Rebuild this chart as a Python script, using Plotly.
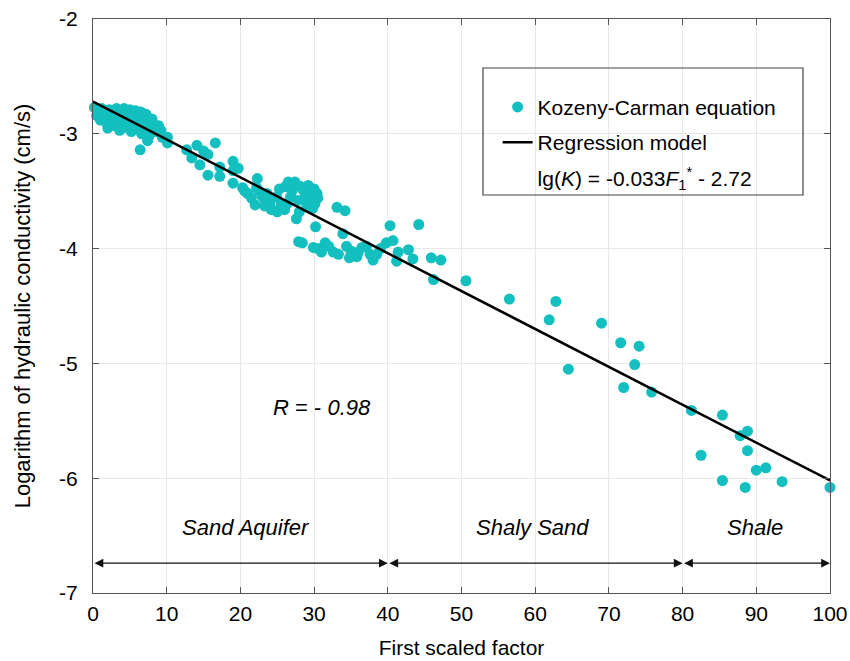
import plotly.graph_objects as go

# Kozeny-Carman estimates: first scaled factor vs log10 hydraulic conductivity
factor = [
    0.2, 0.5, 0.8, 1.0, 1.2, 1.5, 1.8, 2.0, 2.2, 2.5, 2.6, 2.8, 3.0, 3.2, 3.5, 3.6,
    3.8, 4.0, 4.1, 4.2, 4.5, 4.8, 5.0, 5.2, 5.3, 5.5, 5.8, 6.0, 6.2, 6.5, 6.6, 6.8,
    7.0, 7.2, 7.5, 7.6, 7.8, 8.0, 8.3, 8.6, 8.9, 9.2, 9.4, 6.4, 7.4,
    10.1, 10.1, 12.7, 13.4, 14.1, 14.5, 15.0, 15.6, 15.6, 16.6, 17.2, 17.2, 19.0,
    19.0, 19.7, 19.0, 20.6, 22.2, 22.3,
    20.3, 21.0, 21.5, 22.0, 22.5, 23.0, 23.6, 24.0, 24.2, 24.9, 25.3, 25.5, 26.1,
    26.5, 26.3, 26.8, 27.0, 27.4, 27.6, 27.8, 28.2, 28.5, 28.8, 29.0, 29.3, 29.6,
    30.0, 30.4, 30.1, 30.5, 30.2, 25.0, 23.3, 26.0, 28.0, 29.2, 29.8,
    27.9, 28.4, 29.9, 30.5, 31.5, 32.0, 32.6, 33.1, 34.2, 33.9, 34.4, 35.0, 35.8,
    36.0, 36.5, 37.1, 37.6, 38.0, 38.5, 39.0, 39.8, 40.3, 40.7, 41.2, 41.4, 42.8,
    43.4, 44.2, 45.9, 47.2, 46.2, 33.3, 34.8, 31.0,
    50.6, 56.5, 62.8, 61.9, 69.0, 64.5, 71.6, 74.1, 73.5, 72.0, 75.8,
    81.2, 85.4, 87.8, 88.8, 82.5, 88.8, 90.0, 91.3, 85.4, 88.5, 93.5, 100.0,
]
log_k = [
    -2.77, -2.84, -2.80, -2.88, -2.78, -2.85, -2.90, -2.95, -2.79, -2.83, -2.92, -2.88, -2.93, -2.78, -2.81, -2.97,
    -2.86, -2.95, -2.87, -2.78, -2.83, -2.90, -2.79, -2.98, -2.85, -2.93, -2.80, -2.88, -2.96, -2.81, -3.00, -2.86,
    -2.92, -2.83, -2.88, -3.02, -2.95, -2.87, -2.92, -2.98, -2.93, -2.97, -3.03, -3.14, -3.06,
    -3.03, -3.08, -3.14, -3.21, -3.10, -3.27, -3.15, -3.36, -3.18, -3.08, -3.29, -3.37, -3.24,
    -3.32, -3.30, -3.43, -3.50, -3.47, -3.39,
    -3.47, -3.52, -3.56, -3.62, -3.50, -3.55, -3.52, -3.60, -3.66, -3.55, -3.48, -3.62, -3.46,
    -3.42, -3.61, -3.55, -3.50, -3.42, -3.74, -3.58, -3.46, -3.49, -3.55, -3.63, -3.52, -3.58,
    -3.48, -3.52, -3.61, -3.56, -3.81, -3.68, -3.63, -3.66, -3.68, -3.45, -3.65,
    -3.94, -3.95, -3.99, -4.00, -3.95, -3.98, -4.03, -3.64, -3.67, -3.87, -3.98, -4.02, -4.07,
    -4.03, -3.99, -3.98, -4.05, -4.10, -4.05, -4.00, -3.95, -3.80, -3.93, -4.11, -4.03, -4.01,
    -4.09, -3.79, -4.08, -4.10, -4.27, -4.05, -4.08, -4.03,
    -4.28, -4.44, -4.46, -4.62, -4.65, -5.05, -4.82, -4.85, -5.01, -5.21, -5.25,
    -5.41, -5.45, -5.63, -5.59, -5.80, -5.76, -5.93, -5.91, -6.02, -6.08, -6.03, -6.08,
]

# Regression model lg(K) = -0.033 F1* - 2.72
slope = -0.033
intercept = -2.72
fit_x = [0, 100]
fit_y = [slope * v + intercept for v in fit_x]

x_ticks = [0, 10, 20, 30, 40, 50, 60, 70, 80, 90, 100]
y_ticks = [-7, -6, -5, -4, -3, -2]
y_tick_text = ["-7", "-6", "-5", "-4", "-3", "-2"]

zones = ["Sand Aquifer", "Shaly Sand", "Shale"]
zone_bounds = [(0, 40), (40, 80), (80, 100)]
zone_label_x = [20.8, 59.6, 89.8]
zone_label_y = -6.43
zone_arrow_y = -6.74

teal = "#13BFBF"
font_family = "Liberation Sans, Arial, sans-serif"

fig = go.Figure()

fig.add_trace(go.Scatter(
    x=factor, y=log_k, mode="markers", name="Kozeny-Carman equation",
    marker=dict(color=teal, size=11, line=dict(width=0)),
    cliponaxis=False, legendgroup="a",
))
fig.add_trace(go.Scatter(
    x=fit_x, y=fit_y, mode="lines", name="Regression model",
    line=dict(color="black", width=2.5), legendgroup="b",
))
fig.add_trace(go.Scatter(
    x=[None], y=[None], mode="lines",
    name="lg(<i>K</i>) = -0.033<i>F</i><sub>1</sub><sup>*</sup> - 2.72",
    line=dict(color="rgba(0,0,0,0)", width=0), legendgroup="c",
))

annotations = [
    dict(x=31.1, y=-5.38, xref="x", yref="y", text="<i>R</i> = - <i>0.98</i>",
         showarrow=False, font=dict(size=22, family=font_family, color="black")),
]
for name, lx in zip(zones, zone_label_x):
    annotations.append(dict(
        x=lx, y=zone_label_y, xref="x", yref="y", text=f"<i>{name}</i>",
        showarrow=False, font=dict(size=22, family=font_family, color="black"),
    ))
for lo, hi in zone_bounds:
    annotations.append(dict(
        x=hi, y=zone_arrow_y, ax=lo, ay=zone_arrow_y,
        xref="x", yref="y", axref="x", ayref="y", text="",
        showarrow=True, arrowside="end+start", arrowhead=2,
        arrowsize=1.6, arrowwidth=1.1, arrowcolor="#111111",
        standoff=0, startstandoff=0,
    ))

axis_common = dict(
    showline=True, linecolor="#555555", linewidth=1.2, mirror="ticks",
    ticks="inside", ticklen=6, tickcolor="#555555", tickwidth=1,
    showgrid=True, gridcolor="#e8e8e8", gridwidth=1, zeroline=False,
    tickfont=dict(size=21, family=font_family, color="black"),
    automargin=False,
)

fig.update_layout(
    width=850, height=661,
    margin=dict(l=93, r=20, t=19, b=68),
    paper_bgcolor="white", plot_bgcolor="white",
    font=dict(family=font_family, size=21, color="black"),
    showlegend=True,
    legend=dict(
        x=0.549, y=0.882, xanchor="left", yanchor="top",
        bgcolor="rgba(255,255,255,0)", borderwidth=0,
        font=dict(size=21, family=font_family, color="black"),
        tracegroupgap=5, itemwidth=30,
    ),
    xaxis=dict(
        range=[0, 100], tickvals=x_ticks,
        title=dict(text="First scaled factor", standoff=16,
                   font=dict(size=21, family=font_family)),
        ticklabelstandoff=2,
        **axis_common,
    ),
    yaxis=dict(
        range=[-7, -2], tickvals=y_ticks, ticktext=y_tick_text,
        title=dict(text="Logarithm of hydraulic conductivity (cm/s)", standoff=22,
                   font=dict(size=22, family=font_family)),
        ticklabelstandoff=10,
        **axis_common,
    ),
    annotations=annotations,
    shapes=[dict(
        type="rect", xref="paper", yref="paper",
        x0=(483 - 93) / 737, x1=(803 - 93) / 737,
        y0=(593 - 195) / 574, y1=(593 - 68) / 574,
        line=dict(color="#444444", width=1.2), fillcolor="rgba(0,0,0,0)", layer="above",
    )],
)

fig.write_html("out.html")
